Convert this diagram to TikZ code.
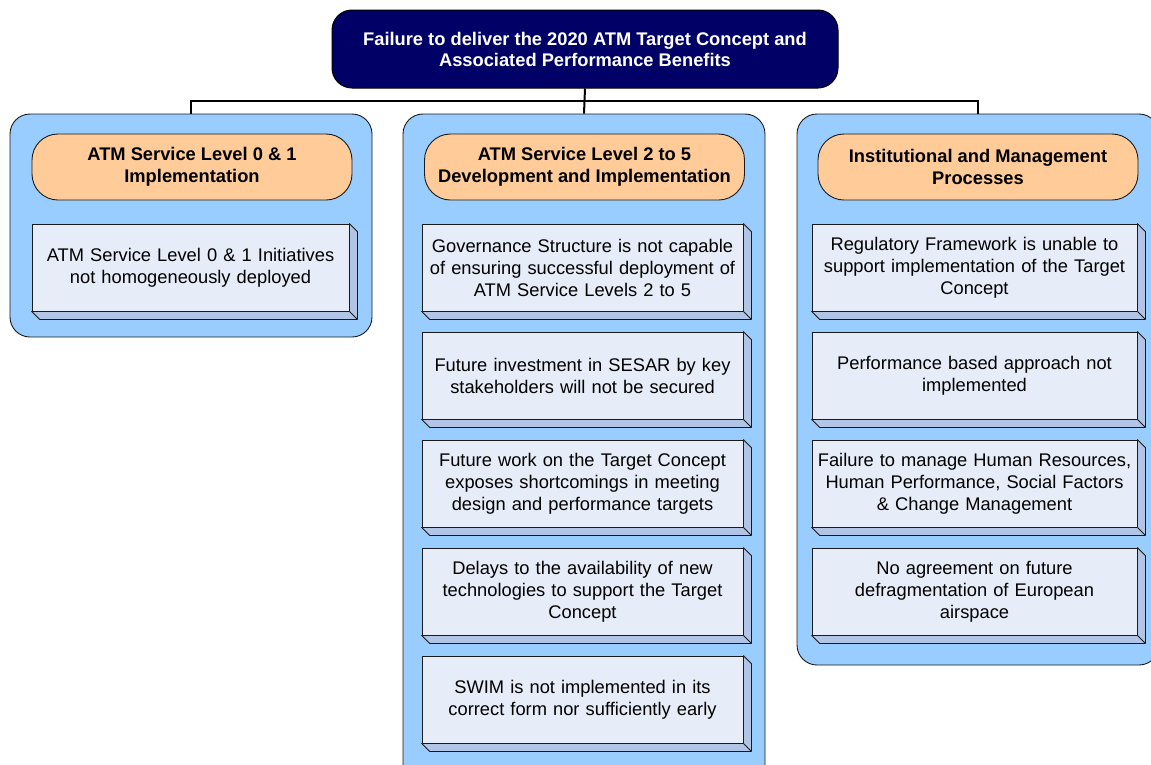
\documentclass[tikz,border=0pt]{standalone}
\usepackage{fontspec}
\setmainfont{Liberation Sans}
\definecolor{navy}{HTML}{000066}
\definecolor{panelblue}{HTML}{99CCFF}
\definecolor{headorange}{HTML}{FFCC99}
\definecolor{itemface}{HTML}{E6ECF8}
\definecolor{itemside}{HTML}{B3C5E6}
\definecolor{edge}{HTML}{1A1A1A}
\newcommand{\extrude}[1]{%
  \filldraw[itemside,draw=edge,line width=0.8pt,line join=round]
    (#1.north east) -- ++(8,8) -- ([shift={(8,8)}]#1.south east)
    -- ([shift={(8,8)}]#1.south west) -- (#1.south west) -- (#1.south east) -- cycle;
  \draw[edge,line width=0.8pt] (#1.south east) -- ++(8,8);}
\begin{document}
\begin{tikzpicture}[x=1pt,y=-1pt,
  every node/.style={font=\fontsize{18.3}{22}\selectfont},
  goalbox/.style={draw=black,line width=1pt,fill=navy,text=white,rounded corners=20pt,
    minimum width=506pt,minimum height=78pt,align=center,inner sep=0pt,
    font=\fontsize{18.3}{21}\selectfont\bfseries},
  panel/.style={draw=edge,line width=0.9pt,fill=panelblue,rounded corners=20pt,inner sep=0pt},
  headbox/.style={draw=edge,line width=0.9pt,fill=headorange,rounded corners=26pt,
    minimum width=320pt,minimum height=66pt,align=center,inner sep=0pt,
    font=\fontsize{18.3}{22}\selectfont\bfseries},
  item/.style={draw=edge,line width=0.8pt,fill=itemface,minimum height=87pt,
    align=center,inner sep=0pt,text width=#1-4pt,minimum width=#1},
  link/.style={draw=black,line width=2pt}]
\useasboundingbox (0,0) rectangle (1151,764);

% top event
\node[goalbox] (goal) at (585,49) {Failure to deliver the 2020 ATM Target Concept and\\Associated Performance Benefits};

% three category panels
\node[panel,minimum width=362pt,minimum height=223pt] (pl) at (191,225.5) {};
\node[panel,minimum width=362pt,minimum height=680pt] (pm) at (584,454) {};
\node[panel,minimum width=362pt,minimum height=551pt] (pr) at (978,389.5) {};

% connectors
\draw[link] (goal.south) -- (pm.north);
\draw[link] (pl.north) -- ++(0,-13) coordinate (busl) -| (pr.north);

% headers
\node[headbox] (hl) at (192,167) {ATM Service Level 0 \& 1\\Implementation};
\node[headbox] (hm) at (584.5,167) {ATM Service Level 2 to 5\\Development and Implementation};
\node[headbox] (hr) at (978,167) {Institutional and Management\\Processes};

% left column
\node[item=317pt] (l1) at (190.5,267.5) {ATM Service Level 0 \& 1 Initiatives\\not homogeneously deployed};
\extrude{l1}

% middle column
\node[item=321pt] (m1) at (582.5,267.5) {Governance Structure is not capable\\of ensuring successful deployment of\\ATM Service Levels 2 to 5};
\extrude{m1}
\node[item=321pt] (m2) at (582.5,375.5) {Future investment in SESAR by key\\stakeholders will not be secured};
\extrude{m2}
\node[item=321pt] (m3) at (582.5,483.5) {Future work on the Target Concept\\exposes shortcomings in meeting\\design and performance targets};
\extrude{m3}
\node[item=321pt] (m4) at (582.5,591.5) {Delays to the availability of new\\technologies to support the Target\\Concept};
\extrude{m4}
\node[item=321pt] (m5) at (582.5,699.5) {SWIM is not implemented in its\\correct form nor sufficiently early};
\extrude{m5}

% right column
\node[item=325pt] (r1) at (974.5,267.5) {Regulatory Framework is unable to\\support implementation of the Target\\Concept};
\extrude{r1}
\node[item=325pt] (r2) at (974.5,375.5) {Performance based approach not\\implemented};
\extrude{r2}
\node[item=325pt] (r3) at (974.5,483.5) {Failure to manage Human Resources,\\Human Performance, Social Factors\\\& Change Management};
\extrude{r3}
\node[item=325pt] (r4) at (974.5,591.5) {No agreement on future\\defragmentation of European\\airspace};
\extrude{r4}
\end{tikzpicture}
\end{document}
